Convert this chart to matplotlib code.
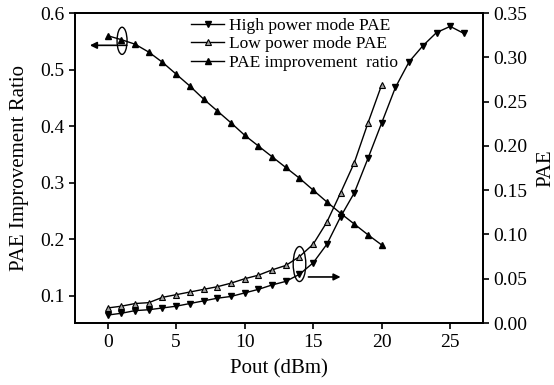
import matplotlib
matplotlib.use('Agg')
import matplotlib.pyplot as plt
from matplotlib.patches import Ellipse

plt.rcParams['font.family'] = 'Liberation Serif'

# output power (dBm)
pout_high = list(range(0, 27))
pout_low = list(range(0, 21))
pout_ratio = list(range(0, 21))

# PAE, right axis
pae_high = [0.009, 0.011, 0.014, 0.015, 0.017, 0.019, 0.022, 0.025, 0.028, 0.030,
            0.034, 0.038, 0.043, 0.047, 0.055, 0.068, 0.089, 0.120, 0.147, 0.186,
            0.226, 0.266, 0.295, 0.313, 0.328, 0.335, 0.327]
pae_low = [0.017, 0.019, 0.022, 0.023, 0.029, 0.032, 0.035, 0.038, 0.041, 0.045,
           0.050, 0.054, 0.060, 0.065, 0.075, 0.089, 0.114, 0.147, 0.181, 0.226,
           0.269]
# PAE improvement ratio, left axis
ratio = [0.560, 0.553, 0.545, 0.531, 0.513, 0.492, 0.471, 0.448, 0.427, 0.406,
         0.384, 0.365, 0.346, 0.327, 0.308, 0.287, 0.266, 0.246, 0.227, 0.208,
         0.190]

left_ticks = [0.1, 0.2, 0.3, 0.4, 0.5, 0.6]
right_ticks = [0.00, 0.05, 0.10, 0.15, 0.20, 0.25, 0.30, 0.35]
x_ticks = [0, 5, 10, 15, 20, 25]

fig = plt.figure(figsize=(5.54, 3.85), dpi=100)
ax = fig.add_axes([0.135, 0.161, 0.737, 0.805])
ax2 = ax.twinx()

l3, = ax.plot(pout_ratio, ratio, '-', color='black', lw=1.0, marker='^',
              ms=4.8, mfc='black', mec='black', label='PAE improvement  ratio')
l1, = ax2.plot(pout_high, pae_high, '-', color='black', lw=1.0, marker='v',
               ms=4.8, mfc='black', mec='black', label='High power mode PAE')
l2, = ax2.plot(pout_low, pae_low, '-', color='black', lw=1.0, marker='^',
               ms=4.8, mfc='#a0a0a0', mec='black', mew=0.8, label='Low power mode PAE')

ax.set_xlim(-2.4, 27.4)
ax.set_ylim(0.052, 0.6)
ax2.set_ylim(0, 0.35)
ax.set_xticks(x_ticks)
ax.set_yticks(left_ticks)
ax.set_yticklabels(['%.1f' % t for t in left_ticks])
ax2.set_yticks(right_ticks)
ax2.set_yticklabels(['%.2f' % t for t in right_ticks])

for a in (ax, ax2):
    a.tick_params(direction='out', length=4, width=1.2, labelsize=14)
    for s in a.spines.values():
        s.set_linewidth(1.3)
ax.tick_params(axis='x', pad=4)

ax.set_xlabel('Pout (dBm)', fontsize=15, labelpad=6)
ax.set_ylabel('PAE Improvement Ratio', fontsize=15, labelpad=8)
ax2.set_ylabel('PAE', fontsize=15, labelpad=6)

# ellipse + arrow marking which axis each curve uses
ax.add_patch(Ellipse((1.05, 0.551), 0.73, 0.048, fill=False, lw=1.0, color='black'))
ax.annotate('', xy=(-1.5, 0.543), xytext=(1.6, 0.543),
            arrowprops=dict(arrowstyle='-|>', color='black', lw=1.2, mutation_scale=10))
ax2.add_patch(Ellipse((14.0, 0.0666), 0.92, 0.0395, fill=False, lw=1.0, color='black'))
ax2.annotate('', xy=(17.2, 0.052), xytext=(14.45, 0.052),
             arrowprops=dict(arrowstyle='-|>', color='black', lw=1.2, mutation_scale=10))

ax2.legend(handles=[l1, l2, l3], loc='upper left', bbox_to_anchor=(0.255, 1.025),
           frameon=False, fontsize=12.5, labelspacing=0.15, handlelength=1.9,
           handletextpad=0.3, borderpad=0.2)

fig.savefig('out.png', dpi=100)
